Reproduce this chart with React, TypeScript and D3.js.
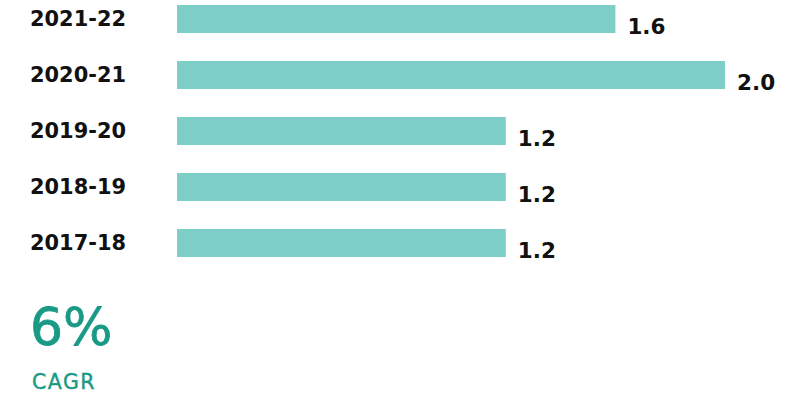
import React from "react";
import * as d3 from "d3";

const categories = ["2021-22", "2020-21", "2019-20", "2018-19", "2017-18"];
const values = [1.6, 2.0, 1.2, 1.2, 1.2];
const cagrValue = "6%";
const cagrLabel = "CAGR";

export default function App() {
  const W = 804, H = 393;
  const x = d3.scaleLinear().domain([0, 2.0]).range([177, 725]);
  const y = d3.scaleBand().domain(categories).range([-9, 271]).paddingInner(0.5).paddingOuter(0.25);
  const font = "'DejaVu Sans', sans-serif";
  return (
    <svg width={W} height={H} style={{ position: "absolute", left: 0, top: 0, background: "#fff" }}>
      {categories.map((c, i) => {
        const y0 = y(c)!;
        const bh = y.bandwidth();
        return (
          <g key={c}>
            <rect x={x(0)} y={y0} width={x(values[i]) - x(0)} height={bh} fill="#7ecec8" />
            <text x={30} y={y0 + bh / 2 + 6.5} fontFamily={font} fontWeight="bold" fontSize={22} fill="#111" textLength={96} lengthAdjust="spacingAndGlyphs">{c}</text>
            <text x={x(values[i]) + 12} y={y0 + bh + 1} fontFamily={font} fontWeight="bold" fontSize={21.5} fill="#111">{d3.format(".1f")(values[i])}</text>
          </g>
        );
      })}
      <text x={30} y={345} fontFamily={font} fontSize={52} fill="#1a9a85" stroke="#1a9a85" strokeWidth={0.8}>{cagrValue}</text>
      <text x={32} y={389} fontFamily={font} fontSize={20.5} fill="#1a9a85" stroke="#1a9a85" strokeWidth={0.4} letterSpacing={1.5}>{cagrLabel}</text>
    </svg>
  );
}
